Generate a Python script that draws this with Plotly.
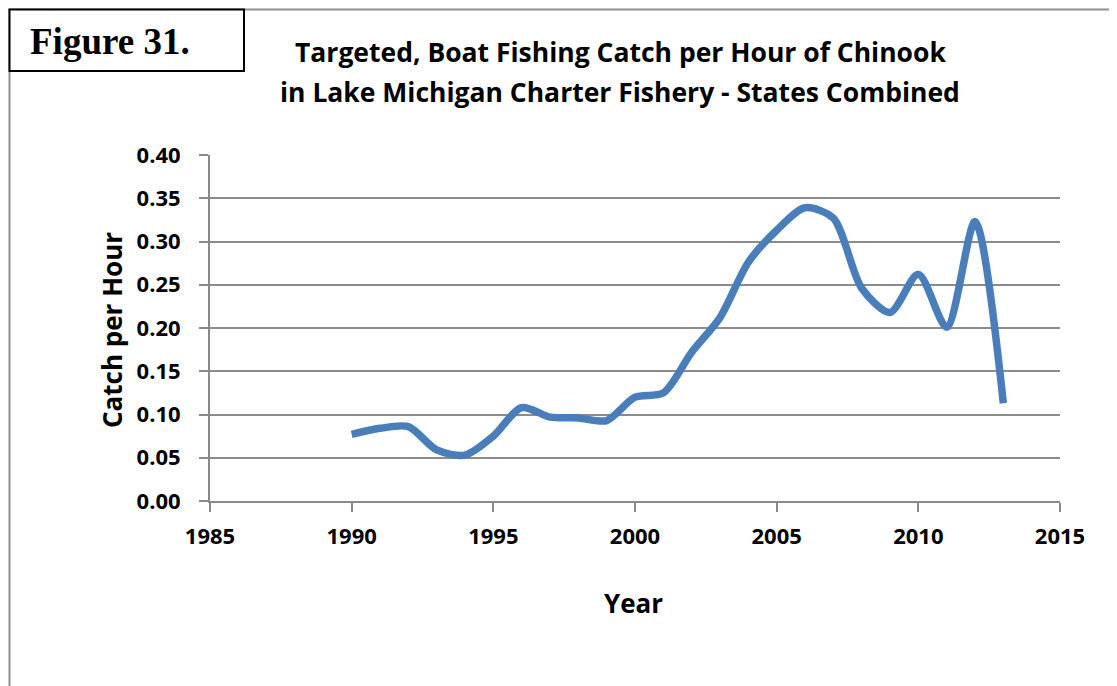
import plotly.graph_objects as go

years = list(range(1990, 2014))
catch_per_hour = [0.077, 0.084, 0.086, 0.059, 0.053, 0.075, 0.108, 0.097, 0.096, 0.093,
                  0.120, 0.125, 0.172, 0.212, 0.276, 0.313, 0.339, 0.327, 0.246, 0.218,
                  0.262, 0.201, 0.323, 0.113]

x_ticks = [1985, 1990, 1995, 2000, 2005, 2010, 2015]
y_ticks = [0.0, 0.05, 0.10, 0.15, 0.20, 0.25, 0.30, 0.35, 0.40]

# page body has an 8px margin, so the figure is a bit smaller than the window
OFF = 8
W, H = 1117 - OFF, 686 - OFF
L, R, T, B = 210 - OFF, 1060 - OFF, 155 - OFF, 501 - OFF


def px(x):
    # page pixel -> paper x
    return (x - OFF - L) / (R - L)


def py(y):
    # page pixel -> paper y
    return (B - (y - OFF)) / (B - T)


fig = go.Figure()
fig.add_trace(go.Scatter(
    x=years, y=catch_per_hour, mode="lines",
    line=dict(color="#4a7ebb", width=7.5, shape="spline", smoothing=0.8),
    hoverinfo="x+y", showlegend=False,
))

tick_font = dict(family="Open Sans", size=22, color="black", weight="bold")
fig.update_xaxes(
    range=[1985, 2015], tickvals=x_ticks, ticks="outside", ticklen=9,
    tickcolor="#898989", tickwidth=2, showline=True, linecolor="#898989", linewidth=2,
    showgrid=False, zeroline=False, tickfont=tick_font, ticklabelstandoff=6,
)
fig.update_yaxes(
    range=[0, 0.4], tickvals=y_ticks, tickformat=".2f", ticks="outside", ticklen=9,
    tickcolor="#898989", tickwidth=2, showline=True, linecolor="#898989", linewidth=2,
    showgrid=True, gridcolor="#8c8c8c", gridwidth=2, zeroline=False, tickfont=tick_font,
    ticklabelstandoff=14,
)

# frame edges can't go left of / above the body margin, so sit them just inside
EDGE = OFF + 1.5
shapes = [
    # outer frame
    dict(type="rect", xref="paper", yref="paper",
         x0=px(EDGE), x1=px(1140), y0=py(720), y1=py(EDGE),
         line=dict(color="#909090", width=2), layer="below"),
    # figure label box
    dict(type="rect", xref="paper", yref="paper",
         x0=px(EDGE), x1=px(244), y0=py(71), y1=py(EDGE),
         line=dict(color="black", width=2), fillcolor="white"),
]

title_font = dict(family="Open Sans", size=26.5, color="black")
axis_title_font = dict(family="Open Sans", size=26, color="black")


def label(text, x, y, font, angle=0):
    return dict(text=text, xref="paper", yref="paper", x=px(x), y=py(y),
                xanchor="center", yanchor="middle", showarrow=False,
                textangle=angle, font=font)


annotations = [
    label("<b>Figure 31.</b>", 110, 41,
          dict(family="Liberation Serif", size=37, color="black")),
    label("<b>Targeted, Boat Fishing Catch per Hour of Chinook</b>", 620, 52, title_font),
    label("<b>in Lake Michigan Charter Fishery - States Combined</b>", 620, 92, title_font),
    label("<b>Catch per Hour</b>", 112, 330, axis_title_font, angle=-90),
    label("<b>Year</b>", 633, 603, axis_title_font),
]

fig.update_layout(
    width=W, height=H,
    margin=dict(l=L, r=W - R, t=T, b=H - B),
    plot_bgcolor="white", paper_bgcolor="white",
    shapes=shapes, annotations=annotations,
)

fig.write_html("out.html")
